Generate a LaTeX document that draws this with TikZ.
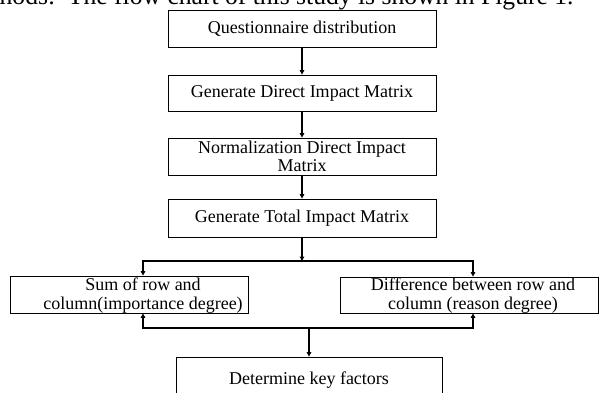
\documentclass[tikz,border=0pt]{standalone}
\usepackage{fontspec}
\setmainfont{Liberation Serif}
\usetikzlibrary{arrows.meta}
\begin{document}
\begin{tikzpicture}[x=1pt,y=-1pt,
  every node/.style={font=\fontsize{18}{18.5}\selectfont, inner sep=0pt},
  box/.style={draw, line width=0.8pt, minimum width=268pt, minimum height=37pt},
  sidebox/.style={draw, line width=0.8pt, minimum height=37pt},
  arr/.style={line width=1.6pt, -{Triangle[length=4.5pt,width=4.5pt]}},
  txt/.style={align=center}]
\useasboundingbox (0,0) rectangle (599,392);
\clip (0,0) rectangle (599,392);
% running text of the page
\node[anchor=base west, font=\fontsize{25.6}{26}\selectfont] (cap) at (-0.5,4.5)
  {hods:\ \ The flow chart of this study is shown in Figure 1.};
% main column
\node[box] (b1) at (302,28.5) {Questionnaire distribution};
\node[box, minimum height=36pt] (b2) at (302,93) {Generate Direct Impact Matrix};
\node[box, txt] (b3) at (302,156.5) {Normalization Direct Impact\\Matrix};
\node[box, minimum height=38pt] (b4) at (302,218) {Generate Total Impact Matrix};
% side boxes
\node[sidebox, minimum width=238pt] (sL) at (129,294.5) {};
\node[txt] (sLt) at (143,295.5) {Sum of row and\\column(importance degree)};
\node[sidebox, minimum width=258pt, minimum height=36pt] (dR) at (469,295) {};
\node[txt] (dRt) at (473,295.5) {Difference between row and\\column (reason degree)};
% final box
\node[box, minimum width=266pt, minimum height=46pt] (fin) at (309,380) {Determine key factors};
% junctions
\coordinate (j1) at (302,261);
\coordinate (j2) at (309,328);
% connectors
\draw[arr] (b1) -- (b2);
\draw[arr] (b2) -- (b3);
\draw[arr] (b3) -- (b4);
\draw[arr] (b4) -- (j1);
\draw[arr] (j1) -| (sLt |- sL.north);
\draw[arr] (j1) -| (dRt |- dR.north);
\draw[arr] (j2) -| (sLt |- sL.south);
\draw[arr] (j2) -| (dRt |- dR.south);
\draw[arr] (j2) -- (fin.north);
\end{tikzpicture}
\end{document}
